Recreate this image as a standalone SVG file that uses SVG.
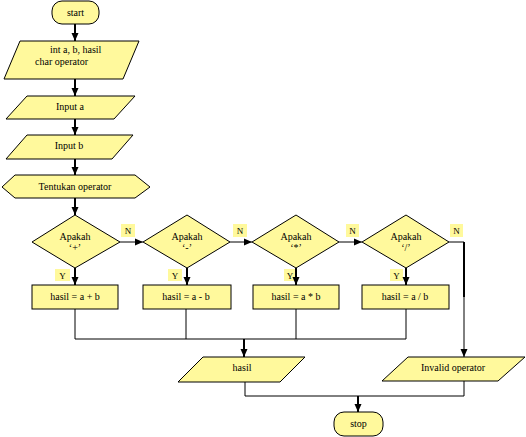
<svg xmlns="http://www.w3.org/2000/svg" width="526" height="437" viewBox="0 0 526 437" font-family="'Liberation Serif', serif">
<style>
.s{fill:#FFF99C;stroke:#000;stroke-width:1}
text{font-family:'Liberation Serif',serif;font-size:10px;fill:#000}
.c{text-anchor:middle}
.sm{font-size:9px}
.lb{fill:#FFF99C;stroke:none}
.k{stroke:#000;stroke-width:2;fill:none}
.n{stroke:#000;stroke-width:1;fill:none}
</style>
<defs>
<marker id="a" markerUnits="userSpaceOnUse" markerWidth="8" markerHeight="8" viewBox="0 0 8 8" refX="8" refY="4" orient="auto">
<path d="M0,0.5 L8,4 L0,7.5 Z" fill="#000"/>
</marker>
</defs>
<rect width="526" height="437" fill="#fff"/>
<g id="labels">
<rect class="lb" x="55" y="269" width="15" height="12"/><text class="c sm" x="62.5" y="279">Y</text>
<rect class="lb" x="168" y="269" width="14" height="12"/><text class="c sm" x="175" y="279">Y</text>
<rect class="lb" x="284" y="269" width="13" height="12"/><text class="c sm" x="290" y="279">Y</text>
<rect class="lb" x="390" y="269" width="13" height="12"/><text class="c sm" x="396.5" y="279">Y</text>
<rect class="lb" x="121" y="224" width="14" height="13"/><text class="c sm" x="128" y="234">N</text>
<rect class="lb" x="233" y="224" width="14" height="13"/><text class="c sm" x="240" y="234">N</text>
<rect class="lb" x="346" y="224" width="13" height="13"/><text class="c sm" x="352.5" y="234">N</text>
<rect class="lb" x="450" y="224" width="13" height="13"/><text class="c sm" x="456.5" y="234">N</text>
</g>
<g id="connectors">
<line class="k" x1="75" y1="24" x2="75" y2="41" marker-end="url(#a)"/>
<line class="k" x1="75" y1="79" x2="75" y2="96" marker-end="url(#a)"/>
<line class="k" x1="75" y1="119" x2="75" y2="135" marker-end="url(#a)"/>
<line class="k" x1="75" y1="159" x2="75" y2="175" marker-end="url(#a)"/>
<line class="k" x1="75" y1="198" x2="75" y2="215" marker-end="url(#a)"/>
<line class="k" x1="75" y1="268" x2="75" y2="285" marker-end="url(#a)"/>
<line class="k" x1="187" y1="268" x2="187" y2="285" marker-end="url(#a)"/>
<line class="k" x1="296" y1="268" x2="296" y2="285" marker-end="url(#a)"/>
<line class="k" x1="406" y1="268" x2="406" y2="285" marker-end="url(#a)"/>
<line class="n" x1="120" y1="242" x2="143" y2="242" marker-end="url(#a)"/>
<line class="n" x1="230" y1="242" x2="252" y2="242" marker-end="url(#a)"/>
<line class="n" x1="339" y1="242" x2="362" y2="242" marker-end="url(#a)"/>
<polyline class="n" points="449,242 464,242"/>
<line class="k" x1="464" y1="242" x2="464" y2="297"/>
<line class="n" x1="464" y1="297" x2="464" y2="357" marker-end="url(#a)"/>
<polyline class="n" points="75,309 75,339 406,339 406,309"/>
<line class="n" x1="186" y1="309" x2="186" y2="339"/>
<line class="n" x1="296" y1="309" x2="296" y2="339"/>
<line class="k" x1="244" y1="339" x2="244" y2="357" marker-end="url(#a)"/>
<polyline class="n" points="245,382 245,396 464,396 464,381"/>
<line class="k" x1="358" y1="396" x2="358" y2="412" marker-end="url(#a)"/>
</g>
<g id="start">
<rect class="s" x="52" y="1" width="47" height="23" rx="10"/>
<text class="c" x="75.5" y="16">start</text>
</g>
<g id="decl">
<polygon class="s" points="20,41 139,41 123,79 4,79"/>
<text x="50" y="53">int a, b, hasil</text>
<text x="35" y="65">char operator</text>
</g>
<g id="inputa">
<polygon class="s" points="27,96 135,96 114,119 6,119"/>
<text class="c" x="70" y="110">Input a</text>
</g>
<g id="inputb">
<polygon class="s" points="27,135 133,135 112,159 6,159"/>
<text class="c" x="69" y="149">Input b</text>
</g>
<g id="tentukan">
<polygon class="s" points="15,175 135,175 150,187 135,198 15,198 2,187"/>
<text class="c" x="75" y="190">Tentukan operator</text>
</g>
<g id="d1">
<polygon class="s" points="75,215 120,242 75,268 32,242"/>
<text class="c" x="75" y="240">Apakah</text>
<text class="c" x="75" y="251">‘+’</text>
</g>
<g id="d2">
<polygon class="s" points="187,215 230,242 187,268 143,242"/>
<text class="c" x="187" y="240">Apakah</text>
<text class="c" x="187" y="251">‘-’</text>
</g>
<g id="d3">
<polygon class="s" points="296,215 339,242 296,268 252,242"/>
<text class="c" x="296" y="240">Apakah</text>
<text class="c" x="296" y="251">‘*’</text>
</g>
<g id="d4">
<polygon class="s" points="406,215 449,242 406,268 362,242"/>
<text class="c" x="406" y="240">Apakah</text>
<text class="c" x="406" y="251">‘/’</text>
</g>
<g id="r1">
<rect class="s" x="32" y="285" width="86" height="24"/>
<text class="c" x="75" y="300">hasil = a + b</text>
</g>
<g id="r2">
<rect class="s" x="143" y="285" width="88" height="24"/>
<text class="c" x="186" y="300">hasil = a - b</text>
</g>
<g id="r3">
<rect class="s" x="253" y="285" width="86" height="24"/>
<text class="c" x="296" y="300">hasil = a * b</text>
</g>
<g id="r4">
<rect class="s" x="362" y="285" width="87" height="24"/>
<text class="c" x="405" y="300">hasil = a / b</text>
</g>
<g id="hasil">
<polygon class="s" points="203,357 305,357 280,382 178,382"/>
<text class="c" x="242" y="371">hasil</text>
</g>
<g id="invalid">
<polygon class="s" points="408,357 525,357 498,381 382,381"/>
<text class="c" x="453" y="371">Invalid operator</text>
</g>
<g id="stop">
<rect class="s" x="334" y="412" width="49" height="24" rx="10"/>
<text class="c" x="358.5" y="427">stop</text>
</g>
</svg>
